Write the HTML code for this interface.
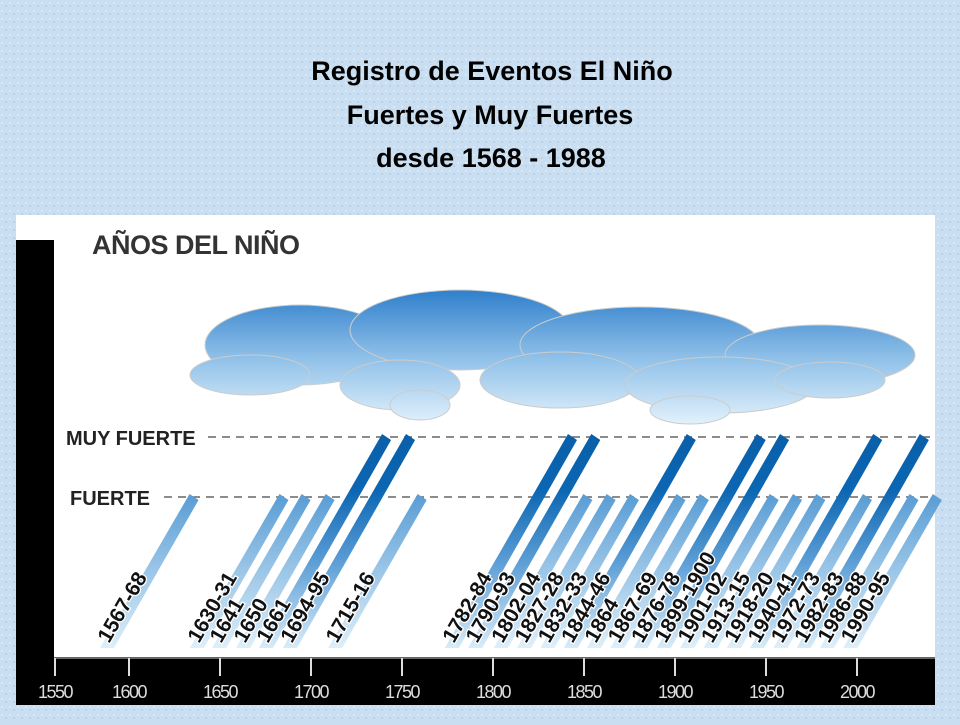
<!DOCTYPE html>
<html><head><meta charset="utf-8"><style>
html,body{margin:0;padding:0;}
body{width:960px;height:720px;overflow:hidden;background:#c9def0;font-family:"Liberation Sans",sans-serif;}
</style></head><body>
<svg width="960" height="720" viewBox="0 0 960 720" xmlns="http://www.w3.org/2000/svg">
<defs>
<pattern id="tex" width="8" height="8" patternUnits="userSpaceOnUse"><rect width="8" height="8" fill="#c9def0"/><rect x="1" y="2" width="2" height="2" fill="#dbe8f5"/><rect x="5" y="5" width="2" height="2" fill="#b9d2ea"/></pattern>
<linearGradient id="cloudG" x1="0" y1="290" x2="0" y2="425" gradientUnits="userSpaceOnUse"><stop offset="0" stop-color="#2f7fcc"/><stop offset="0.5" stop-color="#8fc0e8"/><stop offset="1" stop-color="#e3f2fc"/></linearGradient>
<linearGradient id="gMF" x1="0" y1="648" x2="0" y2="437" gradientUnits="userSpaceOnUse"><stop offset="0" stop-color="#d8ecf9"/><stop offset="0.4" stop-color="#5e9fd6"/><stop offset="0.75" stop-color="#0b66b3"/><stop offset="1" stop-color="#0a5fa8"/></linearGradient>
<linearGradient id="gF" x1="0" y1="648" x2="0" y2="497" gradientUnits="userSpaceOnUse"><stop offset="0" stop-color="#ddeffa"/><stop offset="1" stop-color="#5b9ed5"/></linearGradient>
</defs>
<rect width="960" height="720" fill="url(#tex)"/>
<g font-weight="bold" font-size="27" text-anchor="middle" fill="#000">
<text x="492" y="80">Registro de Eventos El Niño</text>
<text x="490" y="124">Fuertes y Muy Fuertes</text>
<text x="491" y="167">desde 1568 - 1988</text>
</g>
<rect x="16" y="215" width="919" height="490" fill="#fff"/>
<rect x="16" y="240" width="38" height="465" fill="#000"/>
<rect x="16" y="657" width="919" height="48" fill="#000"/>
<line x1="54" y1="658" x2="935" y2="658" stroke="#888" stroke-width="1.5"/>
<text x="92" y="254" font-size="27" font-weight="bold" fill="#333" letter-spacing="-0.5">AÑOS DEL NIÑO</text>
<g fill="url(#cloudG)" stroke="#ccc" stroke-width="1">
<ellipse cx="300" cy="345" rx="95" ry="40"/>
<ellipse cx="460" cy="330" rx="110" ry="40"/>
<ellipse cx="640" cy="345" rx="120" ry="38"/>
<ellipse cx="820" cy="355" rx="95" ry="30"/>
<ellipse cx="250" cy="375" rx="60" ry="20"/>
<ellipse cx="400" cy="385" rx="60" ry="25"/>
<ellipse cx="560" cy="380" rx="80" ry="28"/>
<ellipse cx="720" cy="385" rx="95" ry="28"/>
<ellipse cx="830" cy="380" rx="55" ry="18"/>
<ellipse cx="420" cy="405" rx="30" ry="15"/>
<ellipse cx="690" cy="410" rx="40" ry="14"/>
</g>
<text x="66" y="445" font-size="20" font-weight="bold" fill="#222">MUY FUERTE</text>
<text x="70" y="505" font-size="20" font-weight="bold" fill="#222">FUERTE</text>
<line x1="208" y1="437" x2="935" y2="437" stroke="#666" stroke-width="1.5" stroke-dasharray="8,6"/>
<line x1="164" y1="497" x2="935" y2="497" stroke="#666" stroke-width="1.5" stroke-dasharray="8,6"/>
<g id="bars"></g>
<g id="axis"></g>
</svg>
<script>
const labels = ["1567-68","1630-31","1641","1650","1661","1694-95","1715-16","1782-84","1790-93","1802-04","1827-28","1832-33","1844-46","1864","1867-69","1876-78","1899-1900","1901-02","1913-15","1918-20","1940-41","1972-73","1982-83","1986-88","1990-95"];
const slots = [0,3.86,4.81,5.84,6.82,7.85,9.79,14.8,15.8,16.9,17.9,18.9,19.9,20.9,21.9,22.9,23.9,24.9,25.9,26.9,27.9,28.9,29.9,30.9,31.9];
const levels = [1,1,1,1,2,2,1,2,2,1,1,1,2,1,1,2,2,1,1,1,2,1,2,1,1];
const tickYears = [1550,1600,1650,1700,1750,1800,1850,1900,1950,2000];
const NS="http://www.w3.org/2000/svg";
const baseY=648;
function xSlot(s){return 100+s*23.3;}
function yLevel(l){return l===2?437:(l===1?497:baseY);}
function xYear(y){return Math.max(55,129+(y-1600)*1.82);}
const bars=document.getElementById('bars');
labels.forEach((lab,i)=>{
  const x=xSlot(slots[i]), top=yLevel(levels[i]);
  const dx=(baseY-top)*0.56, w=14;
  const p=document.createElementNS(NS,'polygon');
  p.setAttribute('points',`${x},${baseY} ${x+w},${baseY} ${x+w+dx},${top+3} ${x+dx+5},${top-3}`);
  p.setAttribute('fill',levels[i]===2?'url(#gMF)':'url(#gF)');
  
  
  bars.appendChild(p);
  const t=document.createElementNS(NS,'text');
  const tx=x+9, ty=baseY-4;
  t.setAttribute('x',tx);t.setAttribute('y',ty);
  t.setAttribute('transform',`rotate(-60 ${tx} ${ty})`);
  t.setAttribute('font-size','21');t.setAttribute('font-weight','bold');
  t.setAttribute('fill','#111');t.setAttribute('stroke','#fff');t.setAttribute('stroke-width','2.5');
  t.setAttribute('paint-order','stroke');t.setAttribute('letter-spacing','0');
  t.textContent=lab;
  
  
  bars.appendChild(t);
});
const axis=document.getElementById('axis');
tickYears.forEach(y=>{
  const x=xYear(y);
  const l=document.createElementNS(NS,'line');
  l.setAttribute('x1',x);l.setAttribute('x2',x);l.setAttribute('y1',658);l.setAttribute('y2',676);
  l.setAttribute('stroke','#ddd');l.setAttribute('stroke-width','2');
  
  
  axis.appendChild(l);
  const t=document.createElementNS(NS,'text');
  t.setAttribute('x',x);t.setAttribute('y',698);t.setAttribute('text-anchor','middle');
  t.setAttribute('font-size','18');t.setAttribute('fill','#ddd');t.setAttribute('letter-spacing','-1.5');
  t.textContent=y;
  
  
  axis.appendChild(t);
});
</script>
</body></html>
